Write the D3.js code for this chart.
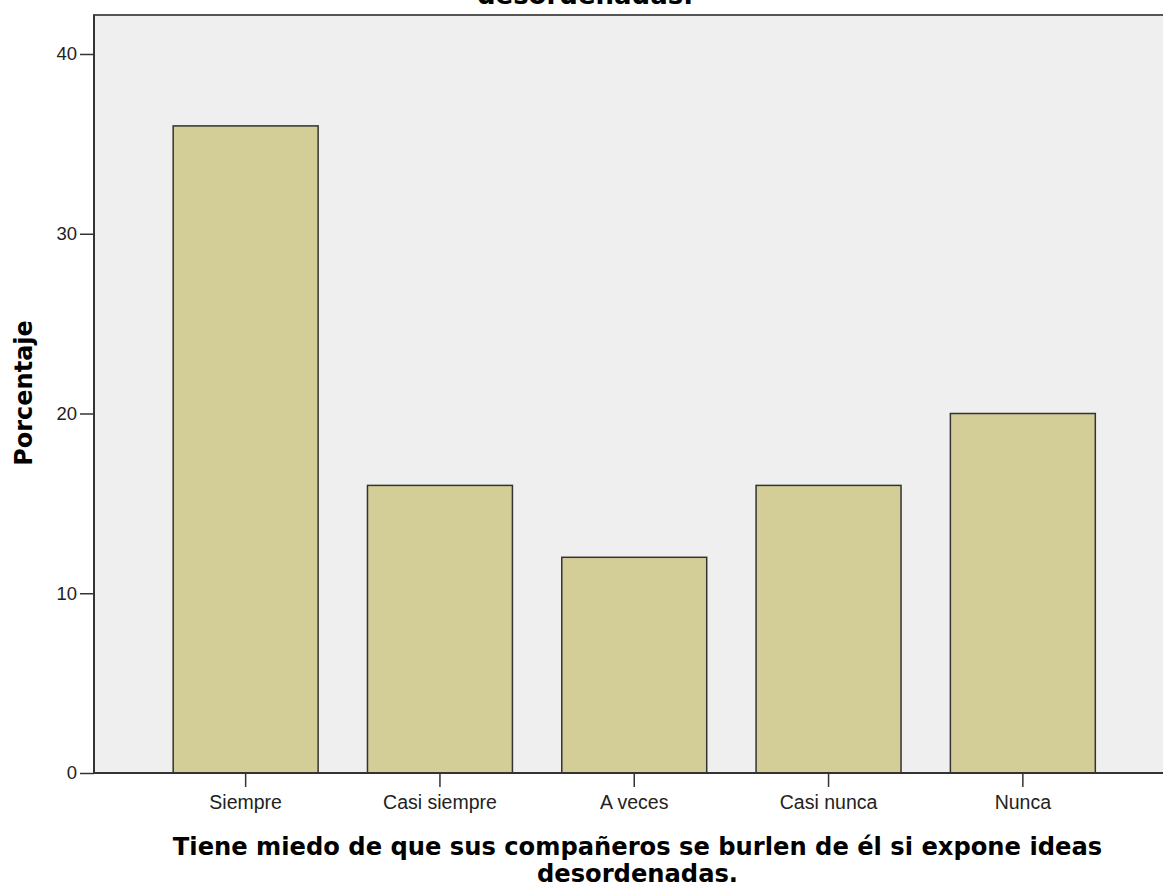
<!DOCTYPE html>
<html><head><meta charset="utf-8">
<script src="https://cdn.jsdelivr.net/npm/d3@7"></script>
<style>body{margin:0;background:#fff}svg{display:block}</style>
</head><body>
<script>
const categories = ["Siempre","Casi siempre","A veces","Casi nunca","Nunca"];
const values = [36,16,12,16,20];
const yTicks = [0,10,20,30,40];
const yLabel = "Porcentaje";
const xTitle = ["Tiene miedo de que sus compañeros se burlen de él si expone ideas","desordenadas."];
const topTitle = "desordenadas.";

const W=1163,H=889;
const svg=d3.select("body").append("svg").attr("width",W).attr("height",H);
const pL=94, pT=15, pR=1175, pB=773;
const y=d3.scaleLinear().domain([0,40]).range([773,54]);
const x=d3.scaleBand().domain(categories).range([148.5,1120]).paddingInner(0.254).paddingOuter(0.127);

svg.append("text").attr("x",585).attr("y",4).attr("text-anchor","middle")
  .attr("font-family","DejaVu Sans").attr("font-weight","bold").attr("font-size",26).text(topTitle);

svg.append("rect").attr("x",pL).attr("y",pT).attr("width",pR-pL).attr("height",pB-pT)
  .attr("fill","#efefef").attr("stroke","#555").attr("stroke-width",2);

svg.selectAll("rect.bar").data(values).enter().append("rect").attr("class","bar")
  .attr("x",(d,i)=>x(categories[i])).attr("y",d=>y(d))
  .attr("width",x.bandwidth()).attr("height",d=>y(0)-y(d))
  .attr("fill","#d3ce97").attr("stroke","#333").attr("stroke-width",1.5);

const ya=svg.append("g").attr("transform",`translate(${pL},0)`)
  .call(d3.axisLeft(y).tickValues(yTicks).tickSize(14).tickPadding(3));
ya.select(".domain").remove();
ya.selectAll("line").attr("stroke","#333").attr("stroke-width",1.5);
ya.selectAll("text").attr("font-family","Liberation Sans").attr("font-size",18.5).attr("fill","#222");

const xa=svg.append("g").attr("transform",`translate(0,${pB})`)
  .call(d3.axisBottom(x).tickSize(14).tickPadding(8));
xa.select(".domain").remove();
xa.selectAll("line").attr("stroke","#333").attr("stroke-width",1.5);
xa.selectAll("text").attr("font-family","Liberation Sans").attr("font-size",19.5).attr("fill","#222");

svg.append("line").attr("x1",pL).attr("x2",W).attr("y1",pB).attr("y2",pB).attr("stroke","#333").attr("stroke-width",2);
svg.append("line").attr("x1",pL).attr("x2",pL).attr("y1",pT).attr("y2",pB).attr("stroke","#333").attr("stroke-width",2);

svg.append("text").attr("transform","translate(32,393) rotate(-90)").attr("text-anchor","middle")
  .attr("font-family","DejaVu Sans").attr("font-weight","bold").attr("font-size",24).text(yLabel);

xTitle.forEach((t,i)=>{
  svg.append("text").attr("x",637.5).attr("y",855+i*27).attr("text-anchor","middle")
   .attr("font-family","DejaVu Sans").attr("font-weight","bold").attr("font-size",24.2).text(t);
});
</script>
</body></html>
